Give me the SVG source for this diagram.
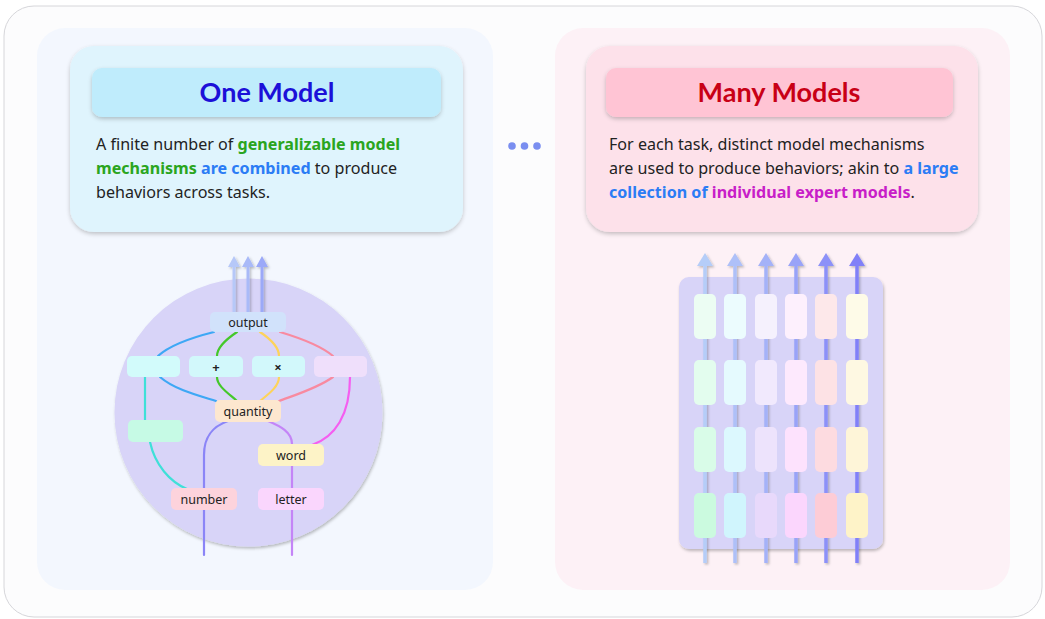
<svg xmlns="http://www.w3.org/2000/svg" width="1045" height="619" viewBox="0 0 1045 619">
<defs>
<filter id="sh" x="-10%" y="-10%" width="120%" height="130%"><feDropShadow dx="0" dy="2" stdDeviation="2" flood-color="#000" flood-opacity="0.22"/></filter>
<filter id="sh2" x="-10%" y="-10%" width="120%" height="120%"><feDropShadow dx="1" dy="2" stdDeviation="1.5" flood-color="#000" flood-opacity="0.25"/></filter>
<filter id="ash" x="-50%" y="-10%" width="200%" height="120%"><feDropShadow dx="1.5" dy="1.5" stdDeviation="1" flood-color="#000" flood-opacity="0.25"/></filter>
<style>
.body{font-family:"Noto Sans","Open Sans",sans-serif;font-size:16.1px;fill:#222}
.b{font-weight:bold}
.g{fill:#2aa520}.bl{fill:#2b7cf5}.m{fill:#c81ec8}
.title{font-family:Lato,"Noto Sans",sans-serif;font-weight:bold;font-size:27px;text-anchor:middle}
.lbl{font-family:"Noto Sans","Open Sans",sans-serif;font-size:12.5px;fill:#222;text-anchor:middle;dominant-baseline:central}
.op{font-size:13px;font-weight:bold}
.w{fill:none;stroke-width:2.2;stroke-linecap:round}
.cell{stroke:none}
</style>
</defs>
<rect x="4" y="6" width="1038" height="611" rx="30" fill="#fcfcfd" stroke="#d6d6da" stroke-width="1"/>
<rect x="37" y="28" width="456" height="562" rx="28" fill="#f3f7fe"/>
<rect x="555" y="28" width="455" height="562" rx="28" fill="#fdf1f6"/>

<g id="card-one">
<rect x="70" y="46" width="393" height="186" rx="24" fill="#dff4fd" filter="url(#sh)"/>
<rect x="92" y="68" width="349" height="49" rx="10" fill="#bfecfc" filter="url(#sh)"/>
<text class="title" x="267" y="102" fill="#1c10d8">One Model</text>
<text class="body" x="96" y="150">A finite number of <tspan class="b g">generalizable model</tspan></text>
<text class="body" x="96" y="174"><tspan class="b g">mechanisms</tspan> <tspan class="b bl">are combined</tspan> to produce</text>
<text class="body" x="96" y="198">behaviors across tasks.</text>
</g>

<g id="card-many">
<rect x="586" y="46" width="392" height="186" rx="24" fill="#fde1ea" filter="url(#sh)"/>
<rect x="606" y="68" width="347" height="49" rx="10" fill="#ffc4d4" filter="url(#sh)"/>
<text class="title" x="779" y="102" fill="#c80016">Many Models</text>
<text class="body" x="609" y="150">For each task, distinct model mechanisms</text>
<text class="body" x="609" y="174">are used to produce behaviors; akin to <tspan class="b bl">a large</tspan></text>
<text class="body" x="609" y="198"><tspan class="b bl">collection of</tspan> <tspan class="b m">individual expert models</tspan>.</text>
</g>

<g id="dots" fill="#7a8ef0">
<circle cx="512" cy="146" r="3.8"/><circle cx="524.5" cy="146" r="3.8"/><circle cx="537" cy="146" r="3.8"/>
</g>

<g id="one-model-graph">
<circle cx="248.5" cy="412.5" r="134" fill="#d8d4f8" filter="url(#sh2)"/>
<g id="connectors">
<g filter="url(#ash)" stroke-width="3" fill="none">
<line x1="234" y1="312" x2="234" y2="262" stroke="#b6c8f8"/>
<line x1="248" y1="312" x2="248" y2="262" stroke="#a9baf8"/>
<line x1="262" y1="312" x2="262" y2="262" stroke="#9ba9f8"/>
<polygon points="234,256 228,267 240,267" fill="#b6c8f8" stroke="none"/>
<polygon points="248,256 242,267 254,267" fill="#a9baf8" stroke="none"/>
<polygon points="262,256 256,267 268,267" fill="#9ba9f8" stroke="none"/>
</g>
<path class="w" stroke="#3ea8f5" d="M214,332 C190,338 170,345 158,356"/>
<path class="w" stroke="#3ea8f5" d="M160,377 C175,390 200,396 216,401"/>
<path class="w" stroke="#44c82a" d="M237,332 C225,340 217,348 217,356"/>
<path class="w" stroke="#44c82a" d="M217,377 C217,386 228,393 237,401"/>
<path class="w" stroke="#fdd35a" d="M260,332 C272,340 279,348 279,356"/>
<path class="w" stroke="#fdd35a" d="M279,377 C279,386 270,393 260,401"/>
<path class="w" stroke="#f88aa0" d="M280,332 C300,338 320,345 333,356"/>
<path class="w" stroke="#f88aa0" d="M333,377 C318,388 295,395 279,401"/>
<path class="w" stroke="#3fe0d8" d="M145,377 L145,420"/>
<path class="w" stroke="#3fe0d8" d="M150,442 C155,465 170,482 187,489"/>
<path class="w" stroke="#f55ef0" d="M350,377 C350,415 335,437 312,445"/>
<path class="w" stroke="#8b85f7" d="M204,555 L204,455 C204,435 214,426 228,421"/>
<path class="w" stroke="#c485f7" d="M292,555 L292,444 C292,432 280,426 268,421"/>
</g>
<g id="n-output"><rect x="210" y="312" width="76" height="20" rx="5" fill="#d1e2fb"/><text class="lbl" x="248" y="322.5">output</text></g>
<g id="n-a"><rect x="127" y="356" width="53" height="21" rx="5" fill="#d2fbfb"/></g>
<g id="n-plus"><rect x="189" y="356" width="54" height="21" rx="5" fill="#d2f8fb"/><text class="lbl op" x="216" y="367">+</text></g>
<g id="n-times"><rect x="252" y="356" width="53" height="21" rx="5" fill="#d2f8fb"/><text class="lbl op" x="278" y="367">×</text></g>
<g id="n-d"><rect x="314" y="356" width="53" height="21" rx="5" fill="#efdffb"/></g>
<g id="n-quantity"><rect x="215" y="400" width="66" height="22" rx="5" fill="#fde7cf"/><text class="lbl" x="248" y="411.5">quantity</text></g>
<g id="n-e"><rect x="128" y="420" width="55" height="22" rx="5" fill="#c6fae5"/></g>
<g id="n-word"><rect x="258" y="444" width="66" height="22" rx="5" fill="#fdf3c7"/><text class="lbl" x="291" y="455.5">word</text></g>
<g id="n-number"><rect x="171" y="488" width="66" height="22" rx="5" fill="#fdd3dc"/><text class="lbl" x="204" y="499.5">number</text></g>
<g id="n-letter"><rect x="258" y="488" width="66" height="22" rx="5" fill="#fad6fd"/><text class="lbl" x="291" y="499.5">letter</text></g>
</g>

<g id="many-models-grid">
<rect x="679" y="277" width="204" height="272" rx="10" fill="#d8d4f8" filter="url(#sh2)"/>
<g id="grid-arrows" filter="url(#ash)" stroke-width="3.5">
<line x1="705" y1="563" x2="705" y2="262" stroke="#b5cdf8"/><polygon points="705,253 697,266 713,266" fill="#b5cdf8"/>
<line x1="735" y1="563" x2="735" y2="262" stroke="#aec0f8"/><polygon points="735,253 727,266 743,266" fill="#aec0f8"/>
<line x1="766" y1="563" x2="766" y2="262" stroke="#a4b2f8"/><polygon points="766,253 758,266 774,266" fill="#a4b2f8"/>
<line x1="796" y1="563" x2="796" y2="262" stroke="#99a3f8"/><polygon points="796,253 788,266 804,266" fill="#99a3f8"/>
<line x1="826" y1="563" x2="826" y2="262" stroke="#8c91f8"/><polygon points="826,253 818,266 834,266" fill="#8c91f8"/>
<line x1="857" y1="563" x2="857" y2="262" stroke="#8180f8"/><polygon points="857,253 849,266 865,266" fill="#8180f8"/>
</g>
<g id="grid-cells" class="cell">
<rect x="694" y="294" width="22" height="45" rx="5" fill="#ecfdf3"/>
<rect x="694" y="360" width="22" height="45" rx="5" fill="#e3fdee"/>
<rect x="694" y="427" width="22" height="45" rx="5" fill="#d9fce8"/>
<rect x="694" y="493" width="22" height="45" rx="5" fill="#cbfadf"/>
<rect x="724" y="294" width="22" height="45" rx="5" fill="#ecfcfe"/>
<rect x="724" y="360" width="22" height="45" rx="5" fill="#e5fafe"/>
<rect x="724" y="427" width="22" height="45" rx="5" fill="#dcf8fe"/>
<rect x="724" y="493" width="22" height="45" rx="5" fill="#d0f5fd"/>
<rect x="755" y="294" width="22" height="45" rx="5" fill="#f5f1fd"/>
<rect x="755" y="360" width="22" height="45" rx="5" fill="#f1e9fd"/>
<rect x="755" y="427" width="22" height="45" rx="5" fill="#ede3fc"/>
<rect x="755" y="493" width="22" height="45" rx="5" fill="#e8d9fb"/>
<rect x="785" y="294" width="22" height="45" rx="5" fill="#fdf0fd"/>
<rect x="785" y="360" width="22" height="45" rx="5" fill="#fde9fd"/>
<rect x="785" y="427" width="22" height="45" rx="5" fill="#fde2fd"/>
<rect x="785" y="493" width="22" height="45" rx="5" fill="#fbd6fd"/>
<rect x="815" y="294" width="22" height="45" rx="5" fill="#fde8ea"/>
<rect x="815" y="360" width="22" height="45" rx="5" fill="#fde2e5"/>
<rect x="815" y="427" width="22" height="45" rx="5" fill="#fddbe0"/>
<rect x="815" y="493" width="22" height="45" rx="5" fill="#fdccd6"/>
<rect x="846" y="294" width="22" height="45" rx="5" fill="#fefbe8"/>
<rect x="846" y="360" width="22" height="45" rx="5" fill="#fef8e2"/>
<rect x="846" y="427" width="22" height="45" rx="5" fill="#fef5d8"/>
<rect x="846" y="493" width="22" height="45" rx="5" fill="#fef3c8"/>
</g>
</g>
</svg>
